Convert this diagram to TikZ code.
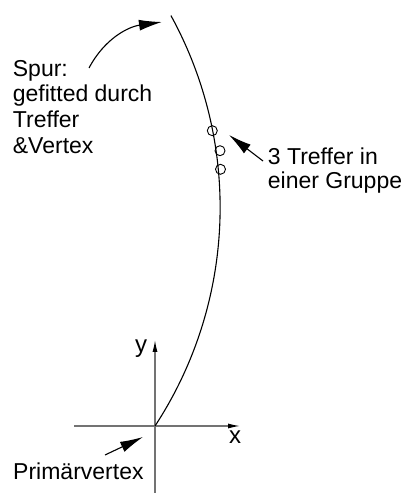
\documentclass[tikz,border=0pt]{standalone}
\usepackage{fontspec}
\setmainfont{Liberation Sans}
\usepackage{tikz}
\usetikzlibrary{positioning,arrows.meta}
\tikzset{
  trk/.style={draw=black, line width=1.1pt},
  hit/.style={circle, draw=black, line width=0.9pt, minimum size=10pt, inner sep=0pt},
  ax/.style={draw=black!55, line width=1.2pt, -{Latex[color=black, length=12pt, width=5pt]}},
  ann/.style={draw=black, line width=1.1pt, -{Latex[length=23pt, width=11pt]}},
  lbl/.style={font=\fontsize{23}{25.8}\selectfont, inner sep=0pt, align=left},
  axlbl/.style={font=\fontsize{24}{26}\selectfont, inner sep=0pt}
}
\begin{document}
\begin{tikzpicture}[x=1pt, y=1pt]
        \useasboundingbox (0,0) rectangle (403,495);
        % axes
        \coordinate (vtx) at (155,69);
        \coordinate (ybot) at (155,2);
        \coordinate (ytop) at (155,155);
        \coordinate (xl) at (74,69);
        \coordinate (xr) at (240,69);
        \draw[ax] (ybot)--(ytop);
        \draw[ax] (xl)--(xr);
        \node[axlbl] (ylab) at (141,146) {y};
        \node[axlbl] (xlab) at (235,58) {x};
        % track
        \draw[trk] (vtx) arc[start angle=-33.2, end angle=28.75, radius=399pt] coordinate (trkend);
        \node[hit] (h1) at (212.3,364.3) {};
        \node[hit] (h2) at (220,344.3) {};
        \node[hit] (h3) at (220.5,325.7) {};
        % labels (base = last line)
        \node[lbl, anchor=base west] (spur) at (12.7,341.5) {Spur:\\gefitted durch\\Treffer\\\&Vertex};
        \node[lbl, anchor=base west, font=\fontsize{23}{23.5}\selectfont] (grp) at (267.7,306.7) {3 Treffer in\\einer Gruppe};
        \node[lbl, anchor=base west] (prim) at (13,16) {Primärvertex};
        % arrows
        \coordinate (a1s) at (89,427); \coordinate (a1e) at (162,473);
        \coordinate (a2s) at (263,334); \coordinate (a2e) at (229,360);
        \coordinate (a3s) at (105,40); \coordinate (a3e) at (143,58);
        \draw[ann] (a1s) to[out=62, in=188] (a1e);
        \draw[ann] (a2s)--(a2e);
        \draw[ann] (a3s)--(a3e);
      \end{tikzpicture}
\end{document}
